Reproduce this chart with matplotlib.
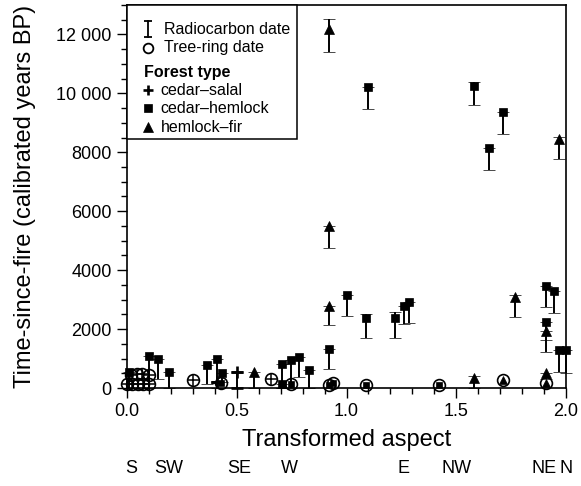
import matplotlib
matplotlib.use("Agg")
import matplotlib.pyplot as plt
import matplotlib.patches as patches
from matplotlib.ticker import MultipleLocator, FuncFormatter

plt.rcParams['font.family'] = ['Liberation Sans', 'DejaVu Sans']

# radiocarbon dates: marker value, lower and upper end of the calibrated range
rc_x = [0.01, 0.10, 0.14, 0.19, 0.365, 0.41, 0.435, 0.705, 0.705, 0.745, 0.785, 0.83,
        0.918, 1.00, 1.09, 1.096, 1.22, 1.26, 1.283, 1.58, 1.648, 1.712, 1.909,
        1.945, 1.909, 1.968, 2.00,
        0.58, 0.918, 0.918, 0.918, 1.58, 1.767, 1.909, 1.968, 1.909,
        0.502, 0.41]
rc_y = [540, 1090, 980, 550, 780, 980, 510, 810, 130, 950, 1060, 600,
        1320, 3150, 2370, 10220, 2370, 2780, 2920, 10250, 8150, 9370, 3460,
        3290, 2240, 1290, 1290,
        540, 12190, 5500, 2780, 340, 3090, 1940, 8450, 510,
        540, 200]
rc_lo = [0, 0, 300, 0, 130, 0, 200, 0, 0, 0, 370, 0,
         650, 2450, 1700, 9470, 1700, 2170, 2200, 9610, 7400, 8620, 2750,
         2550, 1630, 540, 510,
         0, 11410, 4750, 2140, 0, 2410, 1220, 7780, 300,
         0, 200]
rc_hi = [540, 1090, 980, 550, 780, 980, 510, 810, 130, 950, 1060, 600,
         1320, 3150, 2510, 10220, 2580, 2780, 2920, 10390, 8150, 9370, 3460,
         3290, 2240, 1290, 1290,
         540, 12530, 5500, 2780, 400, 3150, 1940, 8520, 510,
         540, 200]
rc_type = ['ch'] * 27 + ['hf'] * 9 + ['cs'] * 2

# tree-ring dates
tr_x = [0.00, 0.025, 0.05, 0.075, 0.10, 0.02, 0.045, 0.07, 0.10, 0.30, 0.655,
        0.43, 0.745, 0.918, 0.94, 1.087, 1.42,
        1.712, 1.909]
tr_y = [150, 150, 150, 150, 150, 430, 460, 470, 440, 270, 310,
        160, 120, 110, 180, 90, 90,
        270, 160]
tr_type = ['cs'] * 11 + ['ch'] * 6 + ['hf'] * 2

compass = ['S', 'SW', 'SE', 'W', 'E', 'NW', 'NE', 'N']
compass_x = [0.02, 0.19, 0.51, 0.74, 1.26, 1.50, 1.90, 2.00]

forest_names = {'cs': 'cedar\u2013salal', 'ch': 'cedar\u2013hemlock', 'hf': 'hemlock\u2013fir'}
mk = {'cs': '+', 'ch': 's', 'hf': '^'}
ms = {'cs': 8, 'ch': 6, 'hf': 7}
mw = {'cs': 1.9, 'ch': 0.5, 'hf': 0.5}

fig = plt.figure(figsize=(5.81, 4.86), dpi=100)
ax = fig.add_axes([127 / 581, 98 / 486, 439 / 581, 383 / 486])

for x, y, lo, hi, t in zip(rc_x, rc_y, rc_lo, rc_hi, rc_type):
    ax.errorbar([x], [y], yerr=[[y - lo], [hi - y]], fmt=mk[t], ms=ms[t], mew=mw[t],
                color='black', ecolor='black', elinewidth=1.4, capsize=4, capthick=1.4,
                clip_on=False, zorder=3)

for x, y, t in zip(tr_x, tr_y, tr_type):
    ax.plot(x, y, 'o', ms=8.5, mfc='none', mec='black', mew=1.2, clip_on=False, zorder=4)
    inner = {'cs': 8, 'ch': 5, 'hf': 5.5}[t]
    ax.plot(x, y, mk[t], ms=inner, color='black', mew=1.1 if t == 'cs' else 0.5,
            clip_on=False, zorder=4)

ax.set_xlim(0, 2.0)
ax.set_ylim(0, 13000)
ax.xaxis.set_major_locator(MultipleLocator(0.5))
ax.xaxis.set_minor_locator(MultipleLocator(0.1))
ax.yaxis.set_major_locator(MultipleLocator(2000))
ax.yaxis.set_minor_locator(MultipleLocator(500))
ax.xaxis.set_major_formatter(FuncFormatter(lambda v, p: f"{v:.1f}"))


def fmt_y(v, p):
    v = int(round(v))
    if v >= 10000:
        return f"{v // 1000} {v % 1000:03d}"
    return str(v)


ax.yaxis.set_major_formatter(FuncFormatter(fmt_y))
ax.tick_params(which='major', direction='out', length=7, width=1, labelsize=13, pad=4)
ax.tick_params(which='minor', direction='out', length=4, width=1)
for s in ax.spines.values():
    s.set_linewidth(1.2)

ax.set_xlabel('Transformed aspect', fontsize=17)
ax.xaxis.set_label_coords(0.5, (388 - 440) / 383)
ax.xaxis.label.set_va('center')
ax.set_ylabel('Time-since-fire (calibrated years BP)', fontsize=17)
ax.yaxis.set_label_coords((25 - 127) / 439, 0.5)
ax.yaxis.label.set_va('center')

for lbl, x in zip(compass, compass_x):
    ax.text(x, (388 - 468) / 383, lbl, transform=ax.get_xaxis_transform(),
            ha='center', va='center', fontsize=13)

# legend, drawn by hand to get the "Forest type" header
T = ax.transAxes
ax.add_patch(patches.Rectangle((0, 0.650), 0.387, 0.350, transform=T, facecolor='white',
                               edgecolor='black', lw=1.1, zorder=10, clip_on=False))
sx = 0.048
ax.plot([sx, sx], [0.916, 0.958], transform=T, color='black', lw=1.3, zorder=11)
ax.plot([sx, sx], [0.916, 0.958], '_', transform=T, color='black', ms=6, mew=1.3, zorder=11)
ax.text(0.084, 0.937, 'Radiocarbon date', transform=T, va='center', fontsize=11.5, zorder=11)
ax.plot(sx, 0.888, 'o', transform=T, ms=7, mfc='none', mec='black', mew=1.3, zorder=11)
ax.text(0.084, 0.888, 'Tree-ring date', transform=T, va='center', fontsize=11.5, zorder=11)
ax.text(0.039, 0.825, 'Forest type', transform=T, va='center', fontsize=11.5,
        fontweight='bold', zorder=11)
for t, yy in zip(['cs', 'ch', 'hf'], [0.778, 0.731, 0.681]):
    ax.plot(sx, yy, mk[t], transform=T, ms={'cs': 7, 'ch': 5.5, 'hf': 6.5}[t],
            mew=mw[t], color='black', zorder=11)
    ax.text(0.077, yy, forest_names[t], transform=T, va='center', fontsize=11.5, zorder=11)

fig.savefig('out.png', dpi=100)
